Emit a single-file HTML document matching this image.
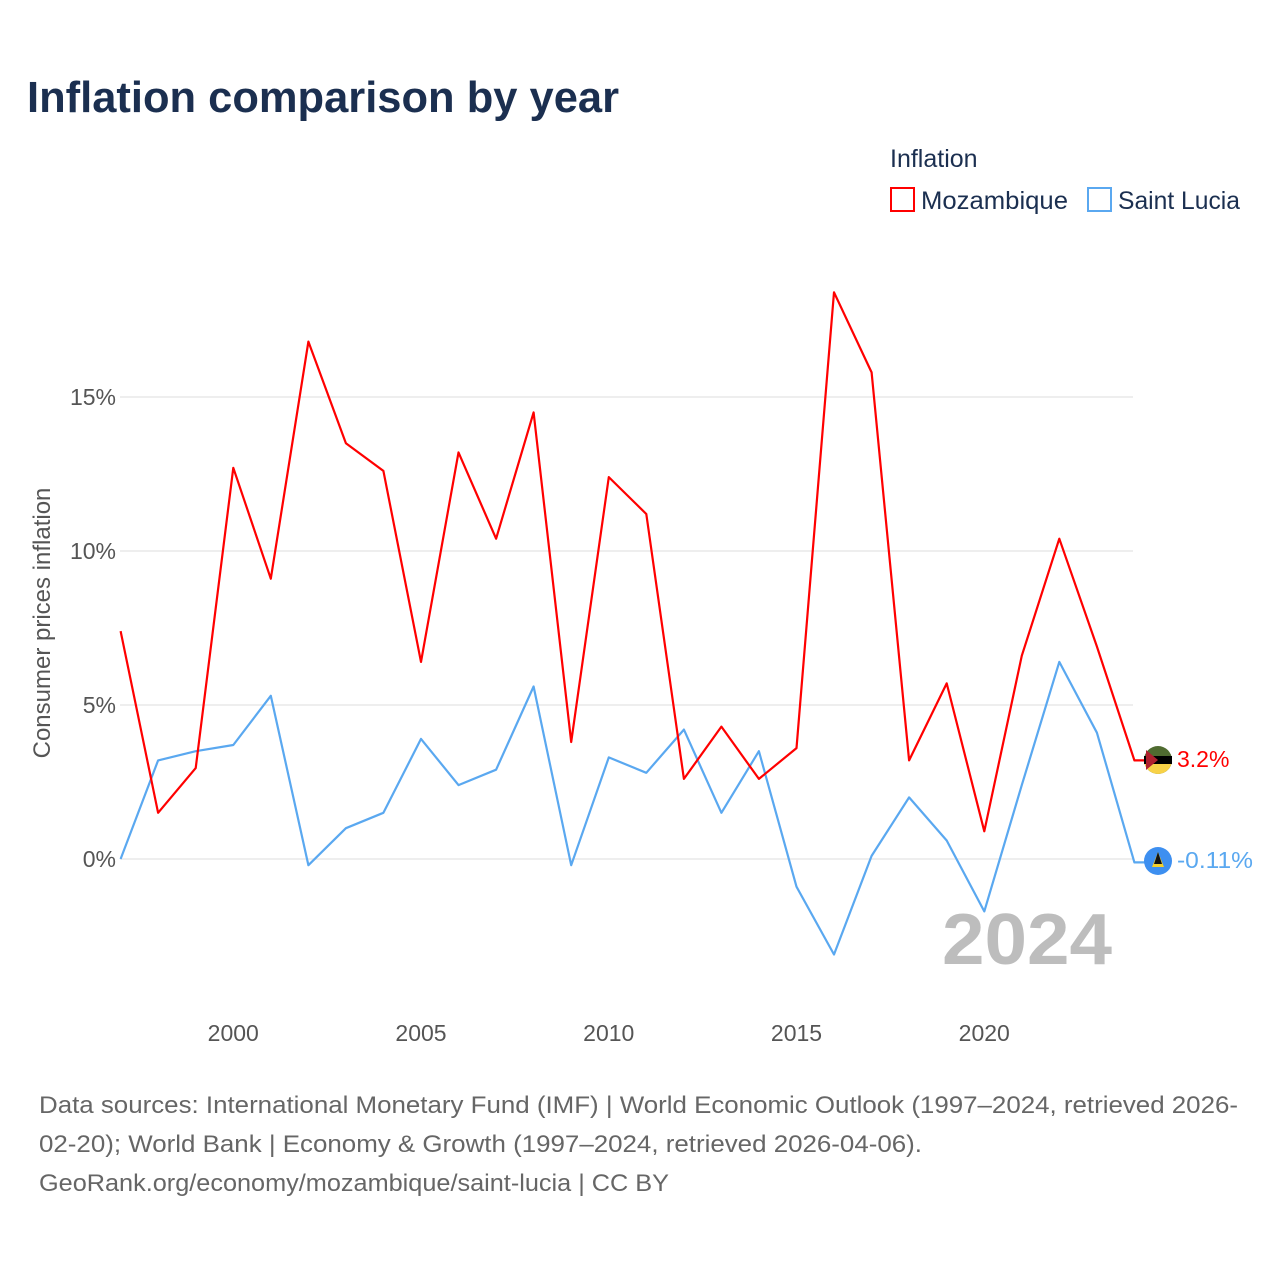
<!DOCTYPE html>
<html><head><meta charset="utf-8"><style>
body{margin:0;background:#fff;font-family:"Liberation Sans",sans-serif;}
</style></head><body>
<svg width="1280" height="1280" xmlns="http://www.w3.org/2000/svg">
<text x="27" y="112" font-size="44" font-weight="bold" fill="#1b2f50" textLength="592" lengthAdjust="spacingAndGlyphs">Inflation comparison by year</text>
<g>
<text x="890" y="167" font-size="25" fill="#1b2f50">Inflation</text>
<g><rect x="891" y="188" width="23" height="23" fill="none" stroke="#f00" stroke-width="2"/><text x="921" y="209" font-size="25" fill="#1b2f50" textLength="147" lengthAdjust="spacingAndGlyphs">Mozambique</text></g>
<g><rect x="1088" y="188" width="23" height="23" fill="none" stroke="#5aa8f0" stroke-width="2"/><text x="1118" y="209" font-size="25" fill="#1b2f50" textLength="122" lengthAdjust="spacingAndGlyphs">Saint Lucia</text></g>
</g>
<g id="grid"></g>
<g id="xt"></g>
<text transform="translate(50,623) rotate(-90)" text-anchor="middle" font-size="24" fill="#555">Consumer prices inflation</text>
<text x="942" y="964" font-size="72" font-weight="bold" fill="#bdbdbd" textLength="170" lengthAdjust="spacingAndGlyphs">2024</text>
<g id="lines"></g>
<g>
<circle cx="1158" cy="760" r="14" fill="#4f6b30"/><path d="M1144 760 a14 14 0 0 0 28 0z" fill="#f8d247"/><rect x="1144" y="756" width="28" height="8" fill="#000"/><path d="M1146 750 L1158 760 L1146 770z" fill="#b0202e"/>
<text x="1177" y="767" font-size="23" fill="#f00">3.2%</text></g>
<g>
<circle cx="1158" cy="861" r="14" fill="#3d8ff0"/><path d="M1158 852 L1164 867 L1152 867z" fill="#f5d02a"/><path d="M1158 852 L1162 864 L1154 864z" fill="#111"/>
<text x="1177" y="868" font-size="23" fill="#5aa8f0" textLength="76" lengthAdjust="spacingAndGlyphs">-0.11%</text></g>
<g font-size="24" fill="#666">
<text x="39" y="1113" textLength="1199" lengthAdjust="spacingAndGlyphs">Data sources: International Monetary Fund (IMF) | World Economic Outlook (1997–2024, retrieved 2026-</text>
<text x="39" y="1152" textLength="883" lengthAdjust="spacingAndGlyphs">02-20); World Bank | Economy &amp; Growth (1997–2024, retrieved 2026-04-06).</text>
<text x="39" y="1191" textLength="630" lengthAdjust="spacingAndGlyphs">GeoRank.org/economy/mozambique/saint-lucia | CC BY</text>
</g>
</svg>
<script>
const years=[1997,1998,1999,2000,2001,2002,2003,2004,2005,2006,2007,2008,2009,2010,2011,2012,2013,2014,2015,2016,2017,2018,2019,2020,2021,2022,2023,2024];
const mozambique=[7.4,1.5,2.95,12.7,9.1,16.8,13.5,12.6,6.4,13.2,10.4,14.5,3.8,12.4,11.2,2.6,4.3,2.6,3.6,18.4,15.8,3.2,5.7,0.9,6.6,10.4,6.9,3.2];
const saintLucia=[0.0,3.2,3.5,3.7,5.3,-0.2,1.0,1.5,3.9,2.4,2.9,5.6,-0.2,3.3,2.8,4.2,1.5,3.5,-0.9,-3.1,0.1,2.0,0.6,-1.7,2.4,6.4,4.1,-0.11];
const yTicks=[0,5,10,15];
const xTicks=[2000,2005,2010,2015,2020];
const NS='http://www.w3.org/2000/svg';
const x=v=>120.6+(v-1997)*37.55;
const y=v=>859-v*30.8;
const grid=document.getElementById('grid'),xt=document.getElementById('xt'),lines=document.getElementById('lines');
yTicks.forEach(t=>{
const l=document.createElementNS(NS,'line');
l.setAttribute('x1',120);l.setAttribute('x2',1133);l.setAttribute('y1',y(t));l.setAttribute('y2',y(t));l.setAttribute('stroke','#e8e8e8');l.setAttribute('stroke-width',1.5);


grid.appendChild(l);
const tx=document.createElementNS(NS,'text');
tx.setAttribute('x',116);tx.setAttribute('y',y(t)+8);tx.setAttribute('text-anchor','end');tx.setAttribute('font-size','23');tx.setAttribute('fill','#555');tx.textContent=t+'%';


grid.appendChild(tx);});
xTicks.forEach(t=>{
const tx=document.createElementNS(NS,'text');
tx.setAttribute('x',x(t));tx.setAttribute('y',1041);tx.setAttribute('text-anchor','middle');tx.setAttribute('font-size','23');tx.setAttribute('fill','#555');tx.textContent=t;


xt.appendChild(tx);});
function draw(vals,color,name){
let d=vals.map((v,i)=>(i?'L':'M')+x(years[i]).toFixed(1)+' '+y(v).toFixed(1)).join(' ');
d+=' L1145 '+y(vals[vals.length-1]).toFixed(1);
const p=document.createElementNS(NS,'path');
p.setAttribute('d',d);p.setAttribute('fill','none');p.setAttribute('stroke',color);p.setAttribute('stroke-width',2.2);p.setAttribute('stroke-linejoin','round');


lines.appendChild(p);}
draw(saintLucia,'#5aa8f0','line-saint-lucia');
draw(mozambique,'#f00','line-mozambique');
</script>
</body></html>
